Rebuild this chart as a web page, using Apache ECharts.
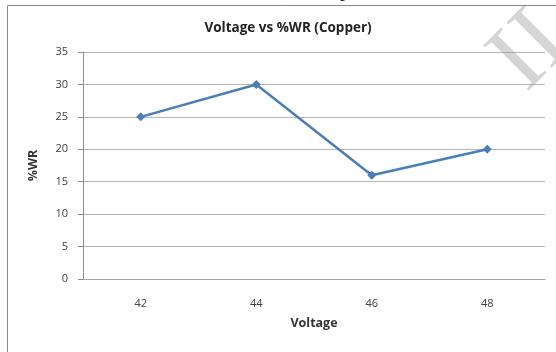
<!DOCTYPE html>
<html>
<head>
<meta charset="utf-8">
<script src="https://cdn.jsdelivr.net/npm/echarts@6/dist/echarts.min.js"></script>
<style>
  html, body { margin: 0; padding: 0; background: #fff; }
  #chart { width: 556px; height: 352px; }
</style>
</head>
<body>
<div id="chart"></div>
<script>
// Voltage (x) against %WR (y) for copper
const voltages = ['42', '44', '46', '48'];
const wrPercent = [25, 30, 16, 20];
const yTicks = { min: 0, max: 35, step: 5 };

const chart = echarts.init(document.getElementById('chart'), null, { renderer: 'canvas' });

const labelFont = { fontFamily: 'Open Sans', fontSize: 11, color: '#404040' };

chart.setOption({
  animation: false,
  backgroundColor: '#ffffff',
  title: {
    text: 'Voltage vs %WR (Copper)',
    left: 283,
    textAlign: 'center',
    top: 16,
    textStyle: { fontFamily: 'Open Sans', fontSize: 13.5, fontWeight: 'bold', color: '#222' }
  },
  grid: { left: 83, right: 11, top: 52, bottom: 73, containLabel: false },
  xAxis: {
    type: 'category',
    data: voltages,
    boundaryGap: true,
    name: 'Voltage',
    nameLocation: 'middle',
    nameGap: 38,
    nameTextStyle: { fontFamily: 'Open Sans', fontSize: 12.5, fontWeight: 'bold', color: '#333' },
    axisLine: { lineStyle: { color: '#a6a6a6', width: 1 } },
    axisTick: { show: false },
    axisLabel: Object.assign({ margin: 19 }, labelFont)
  },
  yAxis: {
    type: 'value',
    min: yTicks.min,
    max: yTicks.max,
    interval: yTicks.step,
    name: '%WR',
    nameLocation: 'middle',
    nameGap: 43,
    nameTextStyle: { fontFamily: 'Open Sans', fontSize: 12.5, fontWeight: 'bold', color: '#333' },
    axisLine: { show: true, lineStyle: { color: '#8c8c8c', width: 1 } },
    axisTick: { show: true, inside: false, length: 5, lineStyle: { color: '#8c8c8c' } },
    axisLabel: Object.assign({ margin: 15 }, labelFont),
    splitLine: { lineStyle: { color: '#b5b5b5', width: 1 } }
  },
  series: [{
    type: 'line',
    data: wrPercent,
    symbol: 'diamond',
    symbolSize: 9,
    lineStyle: { color: '#4a7ebb', width: 2.5 },
    itemStyle: { color: '#4a7ebb' }
  }],
  graphic: [
    {
      type: 'rect',
      z: -1,
      shape: { x: 7.5, y: 5.5, width: 560, height: 360 },
      style: { fill: 'none', stroke: '#8a8a8a', lineWidth: 1 }
    },
    {
      type: 'text',
      x: 340,
      y: -19,
      style: { text: 'p', font: '20px "Liberation Serif"', fill: '#111' }
    },
    {
      type: 'text',
      x: 531,
      y: 52,
      rotation: Math.PI / 4,
      z: 100,
      style: {
        text: 'II',
        font: '98px "Liberation Serif"',
        fill: 'rgba(150,150,150,0.4)',
        align: 'center',
        verticalAlign: 'middle'
      }
    }
  ]
});
</script>
</body>
</html>
